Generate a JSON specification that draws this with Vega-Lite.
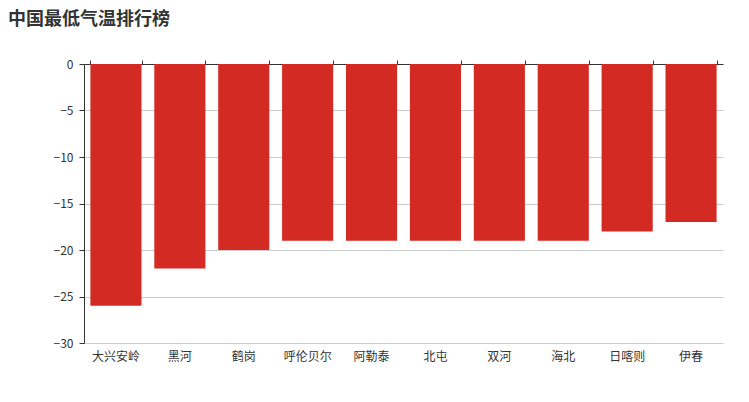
{
  "$schema": "https://vega.github.io/schema/vega-lite/v6.json",
  "width": 639,
  "height": 279,
  "autosize": "none",
  "padding": {"left": 84, "top": 64, "right": 26, "bottom": 59},
  "background": "white",
  "title": {
    "text": "中国最低气温排行榜",
    "anchor": "start",
    "frame": "group",
    "dx": -76,
    "offset": 29,
    "fontSize": 18,
    "fontWeight": "bold",
    "color": "#333333",
    "font": "Noto Sans CJK SC"
  },
  "data": {
    "values": [
      {"city": "大兴安岭", "temp": -26},
      {"city": "黑河", "temp": -22},
      {"city": "鹤岗", "temp": -20},
      {"city": "呼伦贝尔", "temp": -19},
      {"city": "阿勒泰", "temp": -19},
      {"city": "北屯", "temp": -19},
      {"city": "双河", "temp": -19},
      {"city": "海北", "temp": -19},
      {"city": "日喀则", "temp": -18},
      {"city": "伊春", "temp": -17}
    ]
  },
  "layer": [
    {
      "mark": {"type": "bar", "color": "#d42a24"},
      "encoding": {
        "x": {
          "field": "city",
          "type": "nominal",
          "sort": null,
          "scale": {"paddingInner": 0.2, "paddingOuter": 0.1},
          "axis": {
            "orient": "bottom",
            "title": null,
            "domain": false,
            "ticks": false,
            "labelAngle": 0,
            "labelPadding": 8,
            "labelFontSize": 12,
            "labelColor": "#333333",
            "labelFont": "Noto Sans CJK SC"
          }
        },
        "y": {
          "field": "temp",
          "type": "quantitative",
          "scale": {"domain": [-30, 0]},
          "axis": {
            "title": null,
            "values": [0, -5, -10, -15, -20, -25, -30],
            "domainColor": "#333333",
            "tickColor": "#333333",
            "tickSize": 5,
            "labelPadding": 6,
            "labelFontSize": 12,
            "labelColor": "#333333",
            "labelFont": "Noto Sans CJK SC",
            "gridColor": "#cccccc"
          }
        }
      }
    },
    {
      "mark": {"type": "bar", "opacity": 0},
      "encoding": {
        "x": {
          "field": "city",
          "type": "nominal",
          "sort": null,
          "axis": {
            "orient": "top",
            "title": null,
            "labels": false,
            "tickBand": "extent",
            "tickSize": 4,
            "domainColor": "#333333",
            "tickColor": "#333333"
          }
        },
        "y": {"field": "temp", "type": "quantitative"}
      }
    }
  ],
  "resolve": {"axis": {"x": "independent"}},
  "config": {
    "view": {"stroke": null},
    "axis": {"grid": false},
    "axisY": {"grid": true}
  }
}
